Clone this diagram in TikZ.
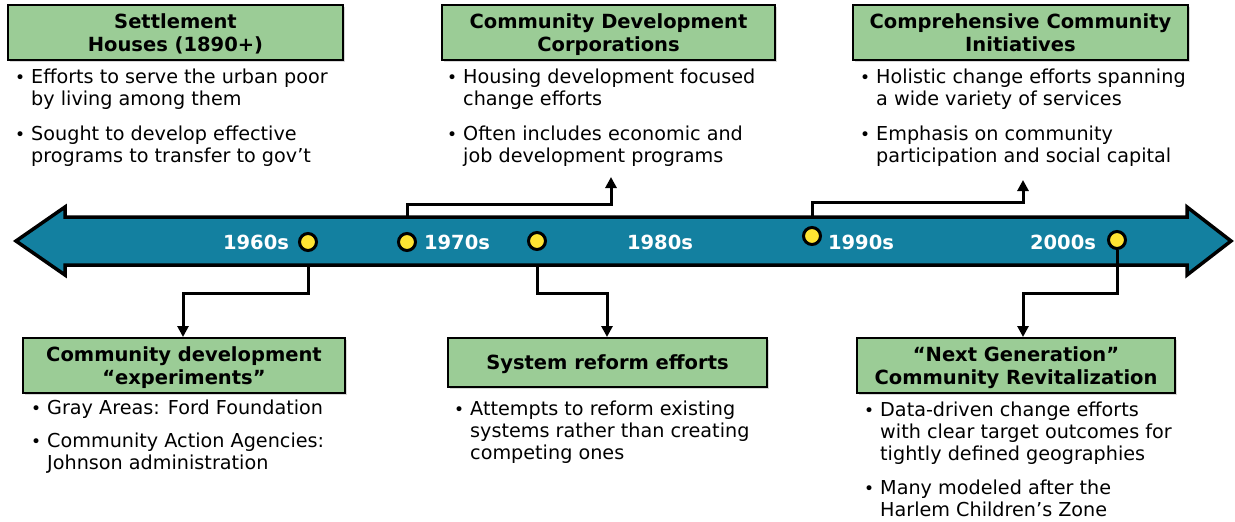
\documentclass[tikz,border=0pt]{standalone}
\usepackage{fontspec}
\setmainfont{DejaVu Sans}
\usetikzlibrary{arrows.meta,shadows}

\definecolor{lineblue}{RGB}{19,128,160}
\definecolor{boxgreen}{RGB}{155,204,150}
\definecolor{dotyellow}{RGB}{255,228,50}

\newcommand\bul{\makebox[16pt][l]{\fontsize{17}{17}\selectfont\textbullet}}
\newcommand\ind{\hspace*{16pt}}

\tikzset{
  titlebox/.style={draw=black, line width=2pt, fill=boxgreen, align=center, inner sep=0pt, text depth=0pt,
    font=\fontsize{19.5}{23}\selectfont\bfseries,
    drop shadow={shadow xshift=2pt, shadow yshift=-2pt, fill=black!30}},
  bullets/.style={anchor=north west, inner sep=0pt, align=left, font=\fontsize{19.2}{22}\selectfont},
  year/.style={text=white, inner sep=0pt, font=\fontsize{19.5}{20}\selectfont\bfseries},
  yeardot/.style={circle, draw=black, line width=3pt, fill=dotyellow, minimum size=17pt, inner sep=0pt},
  conn/.style={line width=3pt, -{Triangle[width=11pt,length=11pt]}},
}

\begin{document}
\begin{tikzpicture}[x=1pt, y=-1pt]
    \useasboundingbox (0,0) rectangle (1235,522);

    % the time line
    \filldraw[line width=3.5pt, fill=lineblue, draw=black] (16,241) -- (65,207) -- (65,217) -- (1187,217) -- (1187,207)
        -- (1231,241) -- (1187,275) -- (1187,265) -- (65,265) -- (65,275) -- cycle;
    \coordinate (shtop) at (0,217);
    \coordinate (shbot) at (0,265);

    \node[year] (y60) at (256,242) {1960s};
    \node[year] (y70) at (457,242) {1970s};
    \node[year] (y80) at (660,242) {1980s};
    \node[year] (y90) at (861,242) {1990s};
    \node[year] (y00) at (1063,242) {2000s};

    % boxes above
    \node[titlebox, minimum width=335pt, minimum height=55pt] (sh) at (175.5,32.5) {Settlement\\Houses (1890+)};
    \node[titlebox, minimum width=333pt, minimum height=55pt] (cdc) at (608.5,32.5) {Community Development\\Corporations};
    \node[titlebox, minimum width=335pt, minimum height=55pt] (cci) at (1020.5,32.5) {Comprehensive Community\\Initiatives};

    \node[bullets] (shtxt) at (15,67.6) {\strut\bul Efforts to serve the urban poor\\\ind by living among them\\[13pt]
        \bul Sought to develop effective\\\ind programs to transfer to gov’t};
    \node[bullets] (cdctxt) at (447,67.6) {\strut\bul Housing development focused\\\ind change efforts\\[13pt]
        \bul Often includes economic and\\\ind job development programs};
    \node[bullets] (ccitxt) at (860,67.6) {\strut\bul Holistic change efforts spanning\\\ind a wide variety of services\\[13pt]
        \bul Emphasis on community\\\ind participation and social capital};

    % boxes below
    \node[titlebox, minimum width=322pt, minimum height=55pt] (cde) at (184,365.5) {Community development\\“experiments”};
    \node[titlebox, minimum width=319pt, minimum height=49pt] (sr) at (607.5,362.5) {System reform efforts};
    \node[titlebox, minimum width=318pt, minimum height=55pt] (ng) at (1016,365.5) {“Next Generation”\\Community Revitalization};

    \node[bullets] (cdetxt) at (31,398.6) {\strut\bul Gray Areas: Ford Foundation\\[11pt]
        \bul Community Action Agencies:\\\ind Johnson administration};
    \node[bullets] (srtxt) at (454,399.6) {\strut\bul Attempts to reform existing\\\ind systems rather than creating\\\ind competing ones};
    \node[bullets] (ngtxt) at (864,400.6) {\strut\bul Data-driven change efforts\\\ind with clear target outcomes for\\\ind tightly defined geographies\\[12pt]
        \bul Many modeled after the\\\ind Harlem Children’s Zone};

    % connectors
    \coordinate (cdtip) at (183,337);
    \coordinate (cdctip) at (611,177);
    \coordinate (srtip) at (607,337);
    \coordinate (ccitip) at (1023,180);
    \coordinate (ngtip) at (1023,337);

    \node[yeardot] (dcd) at (308,242) {};
    \node[yeardot] (dcdc) at (407,242) {};
    \node[yeardot] (dsr) at (537,241) {};
    \node[yeardot] (dcci) at (812,236) {};
    \node[yeardot] (dng) at (1117,240) {};

    \draw[conn] (dcd |- shbot) -- ++(0,28) -| (cdtip);
    \draw[conn] (dcdc |- shtop) -- ++(0,-13) -| (cdctip);
    \draw[conn] (dsr |- shbot) -- ++(0,28) -| (srtip);
    \draw[conn] (dcci |- shtop) -- ++(0,-15) -| (ccitip);
    \draw[conn] (dng.south) -- ++(0,43) -| (ngtip);

\end{tikzpicture}
\end{document}
